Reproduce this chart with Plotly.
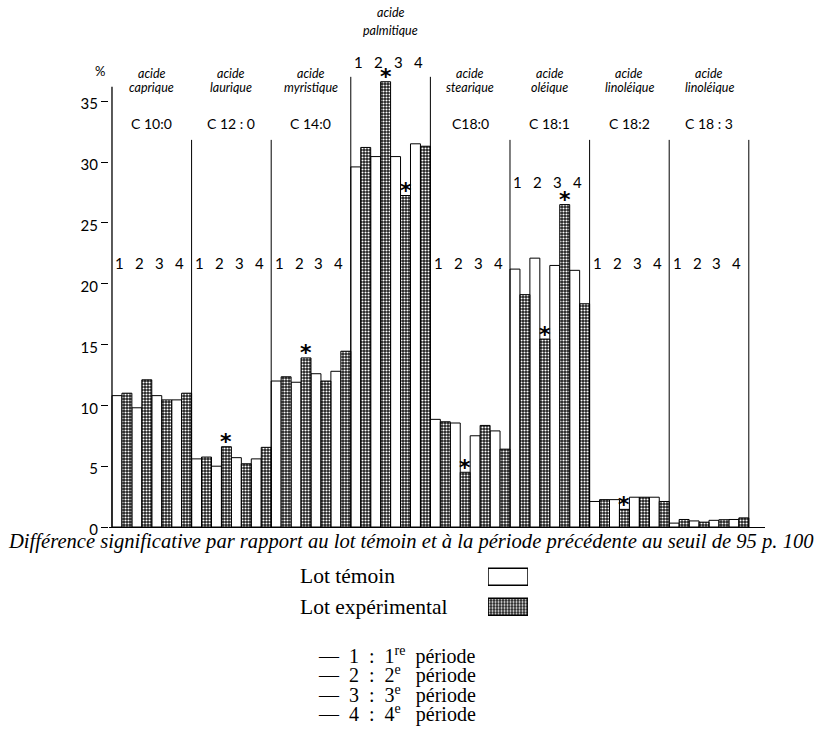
import plotly.graph_objects as go

# ---------------- data ----------------
acid_word = "acide"
acid_names = ["caprique", "laurique", "myristique", "palmitique",
              "stearique", "oléique", "linoléique", "linoléique"]
acid_codes = ["C 10:0", "C 12 : 0", "C 14:0", "", "C18:0", "C 18:1", "C 18:2", "C 18 : 3"]
periods = ["1", "2", "3", "4"]

# Lot témoin (white bars), % per acid and period
temoin = [
    [10.8, 9.8, 10.8, 10.45],
    [5.6, 5.0, 5.7, 5.6],
    [12.0, 11.9, 12.6, 12.8],
    [29.6, 30.45, 30.45, 31.5],
    [8.85, 8.55, 7.5, 7.9],
    [21.2, 22.1, 21.5, 21.1],
    [2.1, 2.25, 2.45, 2.45],
    [0.32, 0.5, 0.55, 0.62],
]
# Lot expérimental (hatched bars)
experimental = [
    [11.0, 12.1, 10.45, 11.0],
    [5.75, 6.6, 5.2, 6.55],
    [12.35, 13.9, 12.0, 14.45],
    [31.2, 36.6, 27.25, 31.3],
    [8.65, 4.5, 8.35, 6.4],
    [19.1, 15.45, 26.5, 18.35],
    [2.25, 1.45, 2.45, 2.1],
    [0.62, 0.4, 0.6, 0.75],
]
# significant differences (acid index, period index) on experimental bars
significant = [(1, 1), (2, 1), (3, 1), (3, 2), (4, 1), (5, 1), (5, 2), (6, 1)]

y_ticks = [0, 5, 10, 15, 20, 25, 30, 35]
caption = ("Différence significative par rapport au lot témoin et à la période "
           "précédente au seuil de 95 p. 100")
legend_labels = ["Lot témoin", "Lot expérimental"]
period_legend = ["—  1  :  1<sup>re</sup>  période", "—  2  :  2<sup>e</sup>   période",
                 "—  3  :  3<sup>e</sup>   période", "—  4  :  4<sup>e</sup>   période"]

# ---------------- layout helpers ----------------
W, H = 823, 737
PX_PER_UNIT = 12.35
BASE = 535  # pixel of y=0


def py(p):
    return 1 - p / H


def px(p):
    return p / W


SANS = "Lato, 'DejaVu Sans', sans-serif"
SERIF = "'Liberation Serif', 'DejaVu Serif', serif"

n_groups = len(acid_names)
tx, ty, ex, ey = [], [], [], []
for g in range(n_groups):
    for p in range(len(periods)):
        tx.append(g * 8 + p * 2 + 0.5)
        ty.append(temoin[g][p])
        ex.append(g * 8 + p * 2 + 1.5)
        ey.append(experimental[g][p])

hatch = dict(shape=".", bgcolor="#1e1e1e", fgcolor="white", size=3,
             solidity=0.4, fillmode="replace")

fig = go.Figure()
fig.add_trace(go.Bar(x=tx, y=ty, width=1, name="Lot témoin",
                     marker=dict(color="white", line=dict(color="black", width=1)),
                     showlegend=False, hoverinfo="skip"))
fig.add_trace(go.Bar(x=ex, y=ey, width=1, name="Lot expérimental",
                     marker=dict(color="#1e1e1e", line=dict(color="black", width=1),
                                 pattern=hatch),
                     showlegend=False, hoverinfo="skip"))

# legend swatches (small subplot)
fig.add_trace(go.Bar(x=[1], y=[1], width=0.57, orientation="h", xaxis="x2", yaxis="y2",
                     marker=dict(color="white", line=dict(color="black", width=1.5)),
                     showlegend=False, hoverinfo="skip", cliponaxis=False))
fig.add_trace(go.Bar(x=[1], y=[0], width=0.57, orientation="h", xaxis="x2", yaxis="y2",
                     marker=dict(color="#1e1e1e", line=dict(color="black", width=1.5),
                                 pattern=hatch),
                     showlegend=False, hoverinfo="skip", cliponaxis=False))

shapes = []
# y axis line
shapes.append(dict(type="line", xref="x", yref="paper", x0=0, x1=0,
                   y0=py(BASE), y1=py(88), line=dict(color="black", width=1.3)))
# group dividers
tall = {3, 4}
for g in range(1, n_groups + 1):
    top = 78 if g in tall else 142
    shapes.append(dict(type="line", xref="x", yref="paper", x0=g * 8, x1=g * 8,
                       y0=py(BASE), y1=py(top), line=dict(color="black", width=1)))

ann = []


def add_text(x, y, text, font, xref="paper", yref="paper", xanchor="center", **kw):
    ann.append(dict(x=x, y=y, xref=xref, yref=yref, text=text, showarrow=False,
                    xanchor=xanchor, yanchor="middle", font=font, **kw))


# percent sign
add_text(px(100), py(72), "%", dict(family=SANS, size=13, color="black"))

name_y = {3: (12.5, 30.5)}
period_y = {3: 63, 5: 185}
ital = dict(family=SANS, size=12.5, color="black", style="italic")
for g in range(n_groups):
    cx = g * 8 + 4
    y1, y2 = name_y.get(g, (75, 89))
    add_text(cx, py(y1), acid_word, ital, xref="x")
    add_text(cx, py(y2), acid_names[g], ital, xref="x")
    if acid_codes[g]:
        add_text(cx, py(125), acid_codes[g], dict(family=SANS, size=14, color="black"),
                 xref="x")
    pyy = period_y.get(g, 267)
    for p, lab in enumerate(periods):
        add_text(g * 8 + p * 2 + 1, py(pyy), lab, dict(family=SANS, size=15, color="black"),
                 xref="x", xshift=-2)

# significance stars
for g, p in significant:
    ann.append(dict(x=g * 8 + p * 2 + 1.5, y=experimental[g][p], xref="x", yref="y",
                    text="*", showarrow=False, yanchor="middle", yshift=5,
                    font=dict(family="DejaVu Sans", size=22, color="black", weight="bold")))

# caption
add_text(px(6), py(550), "<i>" + caption + "</i>",
         dict(family=SERIF, size=20.6, color="black", style="italic"), xanchor="left")
# legend labels
for lab, yy in zip(legend_labels, [585, 616]):
    add_text(px(298), py(yy), lab, dict(family=SERIF, size=21.5, color="black"),
             xanchor="left")
# period legend
for lab, yy in zip(period_legend, [665, 685, 705, 724]):
    add_text(px(316), py(yy), lab, dict(family=SERIF, size=20, color="black"),
             xanchor="left")

fig.update_layout(
    width=W, height=H, margin=dict(l=0, r=0, t=0, b=0),
    paper_bgcolor="white", plot_bgcolor="white",
    barmode="overlay", showlegend=False,
    xaxis=dict(domain=[px(109), px(765)], range=[-0.3, (765 - 112) / 9.95],
               showline=True, linecolor="black", linewidth=1.3, showticklabels=False,
               ticks="", showgrid=False, zeroline=False, fixedrange=True),
    yaxis=dict(domain=[py(BASE), 1], range=[0, BASE / PX_PER_UNIT],
               tickvals=y_ticks, ticktext=[str(v) for v in y_ticks],
               ticks="outside", ticklen=7, tickcolor="black", tickwidth=1.2,
               showline=False, showgrid=False, zeroline=False, ticklabelshift=3,
               tickfont=dict(family=SANS, size=15, color="black")),
    xaxis2=dict(domain=[px(488), px(528)], range=[0, 1], visible=False, anchor="y2"),
    yaxis2=dict(domain=[py(632), py(570)], range=[-0.525, 1.508], visible=False, anchor="x2"),
    shapes=shapes, annotations=ann,
)

post = ("document.documentElement.style.overflow='hidden';"
        "document.body.style.margin='0px';"
        "document.body.style.height='737px';"
        "document.body.style.overflow='hidden';")
fig.write_html("out.html", post_script=post, config={"displayModeBar": False})
